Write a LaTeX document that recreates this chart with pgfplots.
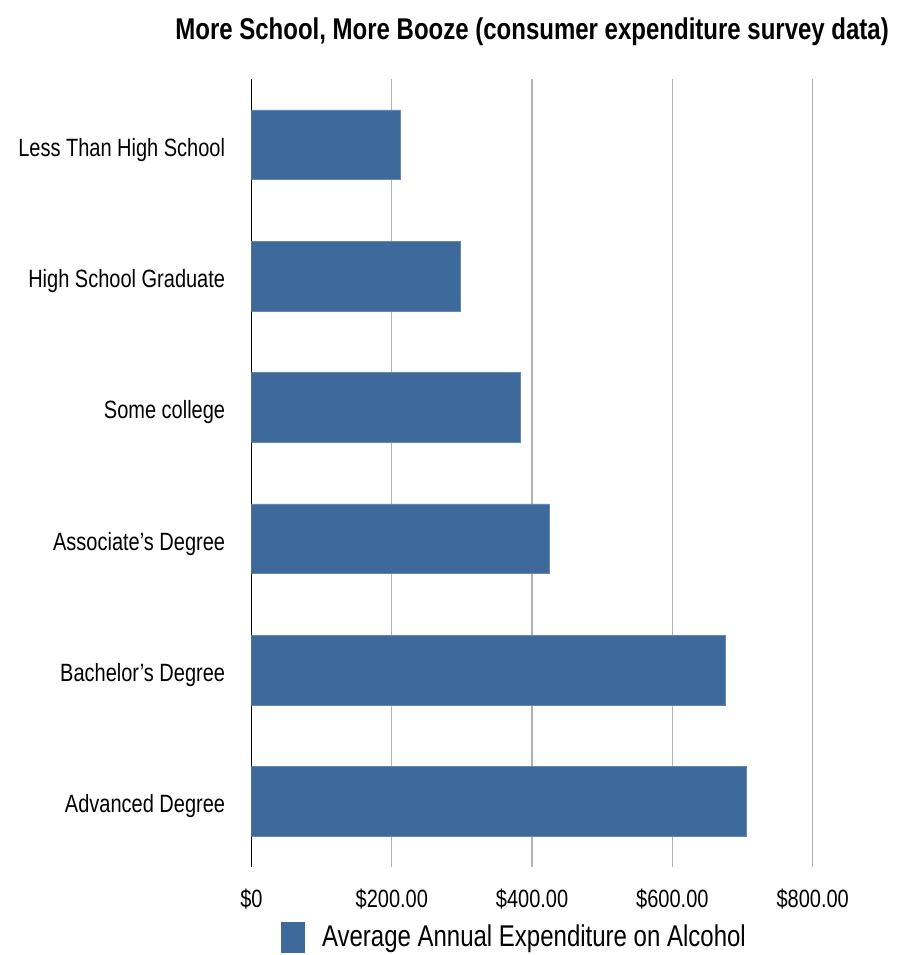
\documentclass[border=0pt]{standalone}
\usepackage{fontspec}
\setmainfont{Liberation Sans}[FakeStretch=0.8]
\usepackage{pgfplots}
\pgfplotsset{compat=1.18}
\definecolor{barblue}{HTML}{3D6A9B}
\begin{document}
\begin{tikzpicture}
\useasboundingbox (0,0) rectangle (454pt,477.5pt);
\begin{axis}[
  at={(125.75pt,44pt)}, anchor=south west,
  scale only axis, width=280.6pt, height=394pt,
  xbar, bar width=0.53,
  xmin=0, xmax=800, ymin=-0.5, ymax=5.5, y dir=reverse,
  ytick={0,...,5},
  yticklabels={Less Than High School, High School Graduate, Some college, Associate's Degree, Bachelor's Degree, Advanced Degree},
  xtick={0,200,400,600,800},
  xticklabels={\$0,\$200.00,\$400.00,\$600.00,\$800.00},
  xmajorgrids, major grid style={black!30, line width=0.7pt},
  axis x line*=bottom, x axis line style={draw=none},
  axis y line*=left, y axis line style={black, line width=0.8pt},
  major tick length=0pt, tick style={draw=none},
  yticklabel style={anchor=east, inner sep=0pt, xshift=-13pt, yshift=-2.5pt, font=\fontsize{12.5}{14}\selectfont},
  xticklabel style={anchor=base, inner sep=0pt, yshift=-20pt, font=\fontsize{12.5}{14}\selectfont},
  title={More School, More Booze (consumer expenditure survey data)},
  title style={at={(axis description cs:0.5,1)}, anchor=center, yshift=17.5pt, font=\bfseries\fontsize{15}{18}\selectfont},
  legend style={at={(axis description cs:0.4707,0)}, anchor=center, yshift=-35pt, draw=none, fill=none,
    font=\fontsize{15}{18}\selectfont, /tikz/every odd column/.append style={column sep=6.5pt}},
  legend image code/.code={\fill[barblue] (0pt,-7.5pt) rectangle (11.5pt,7.5pt);},
]
\addplot[fill=barblue, draw=barblue!80!white, line width=0.3pt] coordinates {
  (212,0) (298,1) (383,2) (425,3) (676,4) (705,5)
};
\addlegendentry{Average Annual Expenditure on Alcohol}
\end{axis}
\end{tikzpicture}
\end{document}
